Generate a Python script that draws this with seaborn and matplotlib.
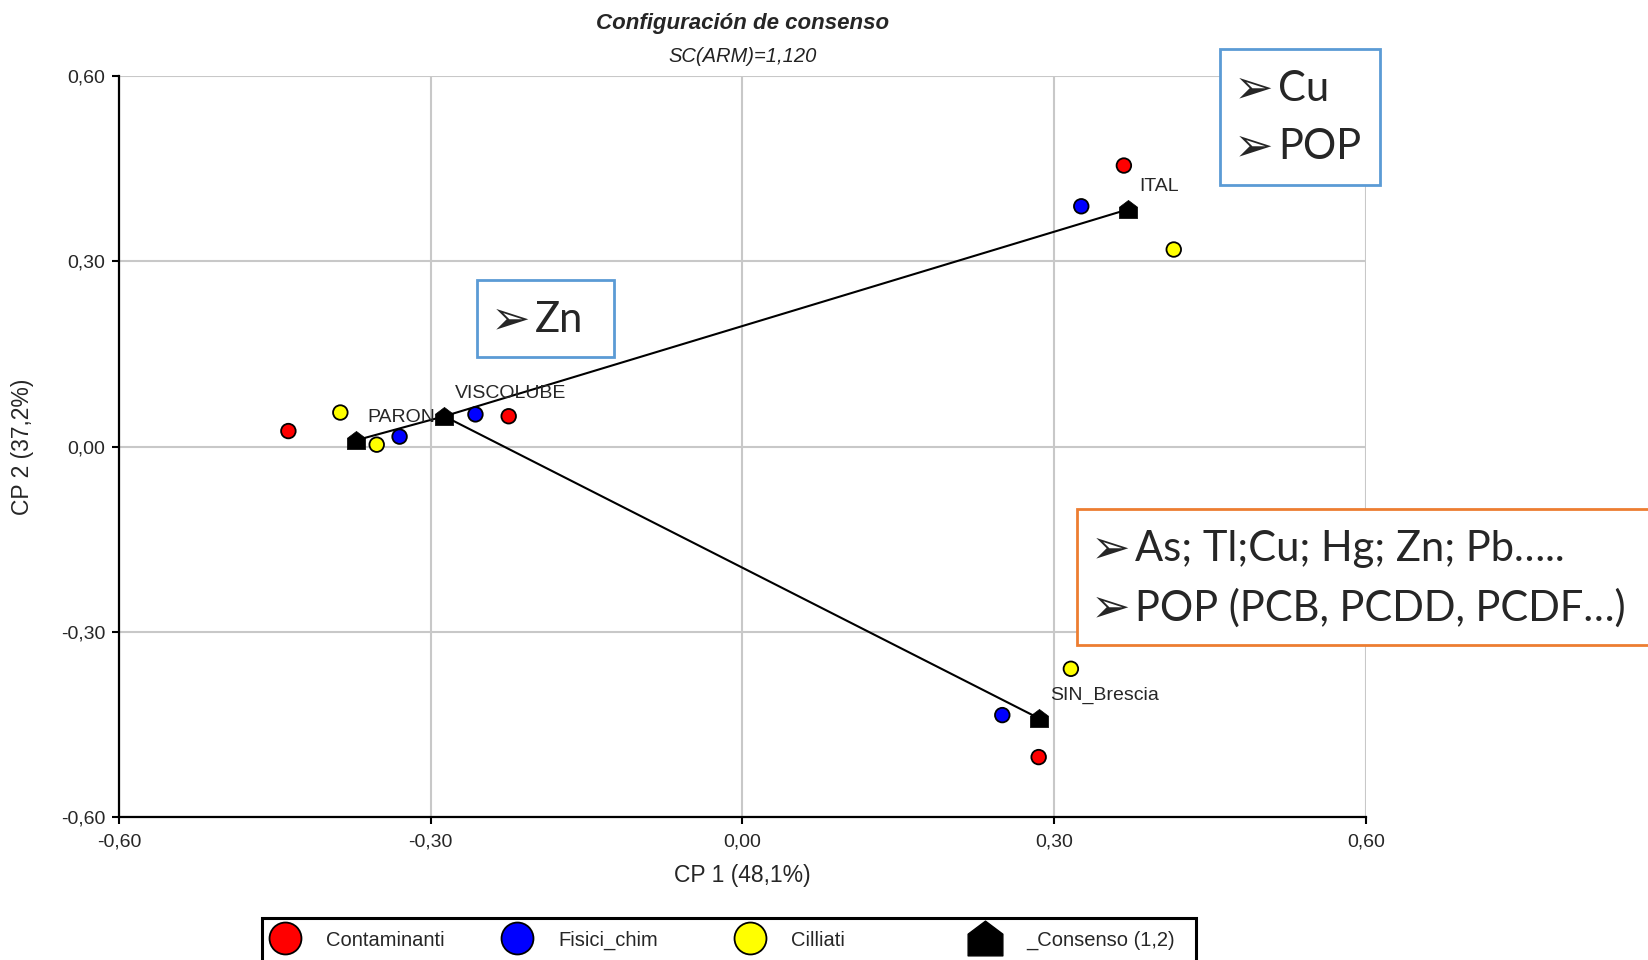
import matplotlib
matplotlib.use("Agg")
import matplotlib.pyplot as plt
import seaborn as sns
import pandas as pd
from matplotlib.path import Path
from matplotlib.lines import Line2D
from matplotlib.patches import Rectangle

# valori
gruppi = ["PARON", "VISCOLUBE", "ITAL", "SIN_Brescia"]
contaminanti_x = [-0.437, -0.225, 0.367, 0.285]
contaminanti_y = [0.025, 0.049, 0.455, -0.503]
fisici_x = [-0.330, -0.257, 0.326, 0.250]
fisici_y = [0.016, 0.052, 0.389, -0.435]
cilliati_x = [-0.352, -0.387, 0.415, 0.316]
cilliati_y = [0.003, 0.055, 0.319, -0.360]
consenso_x = [-0.372, -0.287, 0.371, 0.285]
consenso_y = [0.010, 0.049, 0.384, -0.440]
collegamenti = [(1, 0), (1, 2), (1, 3)]

serie = ["Contaminanti", "Fisici_chim", "Cilliati"]
colori = ["#ff0000", "#0000ff", "#ffff00"]
tick_vals = [-0.60, -0.30, 0.00, 0.30, 0.60]

df = pd.DataFrame({
    "x": contaminanti_x + fisici_x + cilliati_x,
    "y": contaminanti_y + fisici_y + cilliati_y,
    "serie": [s for s in serie for _ in gruppi],
})
cons = pd.DataFrame({"x": consenso_x, "y": consenso_y, "gruppo": gruppi})

sns.set_theme(style="white")
plt.rcParams["font.family"] = ["Liberation Sans", "DejaVu Sans"]

casa = Path([(-1, -1), (1, -1), (1, 0.25), (0, 1), (-1, 0.25), (-1, -1)],
            [Path.MOVETO, Path.LINETO, Path.LINETO, Path.LINETO, Path.LINETO, Path.CLOSEPOLY])

fig = plt.figure(figsize=(16.49, 9.6), dpi=100)
ax = fig.add_axes([119 / 1649, 1 - 817 / 960, 1247 / 1649, 741 / 960])

for i, j in collegamenti:
    ax.plot([consenso_x[i], consenso_x[j]], [consenso_y[i], consenso_y[j]],
            color="black", lw=1.5, zorder=2)

sns.scatterplot(data=df, x="x", y="y", hue="serie", palette=colori, s=110,
                edgecolor="black", linewidth=1.3, legend=False, ax=ax, zorder=3)
sns.scatterplot(data=cons, x="x", y="y", color="black", marker=casa, s=170,
                edgecolor="black", linewidth=0.5, legend=False, ax=ax, zorder=4)

for _, r in cons.iterrows():
    ax.annotate(r["gruppo"], (r["x"], r["y"]), xytext=(8, 16.5), textcoords="offset points",
                ha="left", va="center", fontsize=14)

ax.set_xlim(-0.6, 0.6)
ax.set_ylim(-0.6, 0.6)
etichette = ["0,00" if v == 0 else f"{v:.2f}".replace(".", ",") for v in tick_vals]
ax.set_xticks(tick_vals, etichette)
ax.set_yticks(tick_vals, etichette)
ax.grid(True, color="#c8c8c8", lw=1.5)
ax.set_axisbelow(True)
for s in ["top", "right"]:
    ax.spines[s].set_visible(False)
for s in ["left", "bottom"]:
    ax.spines[s].set_color("black")
    ax.spines[s].set_linewidth(1.6)
ax.tick_params(direction="out", length=5, width=1.5, color="black", labelsize=14,
               left=True, bottom=True, pad=5)
ax.tick_params(axis="x", pad=7)

ax.set_xlabel("CP 1 (48,1%)", fontsize=16.5)
ax.set_ylabel("CP 2 (37,2%)", fontsize=16.5)
ax.xaxis.label.set_va("center")
ax.xaxis.set_label_coords(0.5, -0.0796)
ax.yaxis.label.set_va("center")
ax.yaxis.set_label_coords(-0.077, 0.5)

cx = (119 + 1366) / 2 / 1649
fig.text(cx, 1 - 23 / 960, "Configuración de consenso", ha="center", va="center",
         fontsize=16, fontweight="bold", fontstyle="italic")
fig.text(cx, 1 - 57 / 960, "SC(ARM)=1,120", ha="center", va="center",
         fontsize=14.5, fontstyle="italic", color="#222222")

# riquadri di commento
def riquadro(x0, y0, x1, y1, colore, righe, xt):
    fig.patches.append(Rectangle((x0 / 1649, 1 - y1 / 960), (x1 - x0) / 1649, (y1 - y0) / 960,
                                 transform=fig.transFigure, facecolor="white",
                                 edgecolor=colore, lw=2, zorder=5))
    for testo, yt in righe:
        fig.text((xt - 44) / 1649, 1 - (yt + 1) / 960, "➢", ha="left", va="center",
                 fontsize=34, family="DejaVu Sans", zorder=6)
        fig.text(xt / 1649, 1 - yt / 960, testo, ha="left", va="center", fontsize=30,
                 family=["Lato", "DejaVu Sans"], zorder=6)

riquadro(1220, 49, 1380, 185, "#5b9bd5", [("Cu", 89), ("POP", 147)], 1278)
riquadro(477, 280, 614, 357, "#5b9bd5", [("Zn", 320)], 535)
riquadro(1077, 509, 1665, 645, "#ed7d31",
         [("As; Tl;Cu; Hg; Zn; Pb…..", 549), ("POP (PCB, PCDD, PCDF…)", 608)], 1135)

# legenda
fig.patches.append(Rectangle((262 / 1649, -0.05), (1196 - 262) / 1649, 0.05 + 1 - 918 / 960,
                             transform=fig.transFigure, facecolor="white",
                             edgecolor="black", lw=2.2, zorder=5))
voci = [Line2D([], [], marker="o", ls="", markersize=23, markerfacecolor=c,
               markeredgecolor="black", markeredgewidth=1.3) for c in colori]
voci.append(Line2D([], [], marker=casa, ls="", markersize=25, color="black"))
nomi = serie + ["_Consenso (1,2)"]
pos_x = [269, 501, 734, 969]
for h, n, px in zip(voci, nomi, pos_x):
    leg = fig.legend([h], [n], loc="center left", bbox_to_anchor=(px / 1649, 1 - 940 / 960),
                     frameon=False, fontsize=14.5, handlelength=1.6, handletextpad=1.25,
                     borderpad=0, borderaxespad=0)
    leg.set_zorder(6)

fig.savefig("out.png", dpi=100)
plt.close(fig)
